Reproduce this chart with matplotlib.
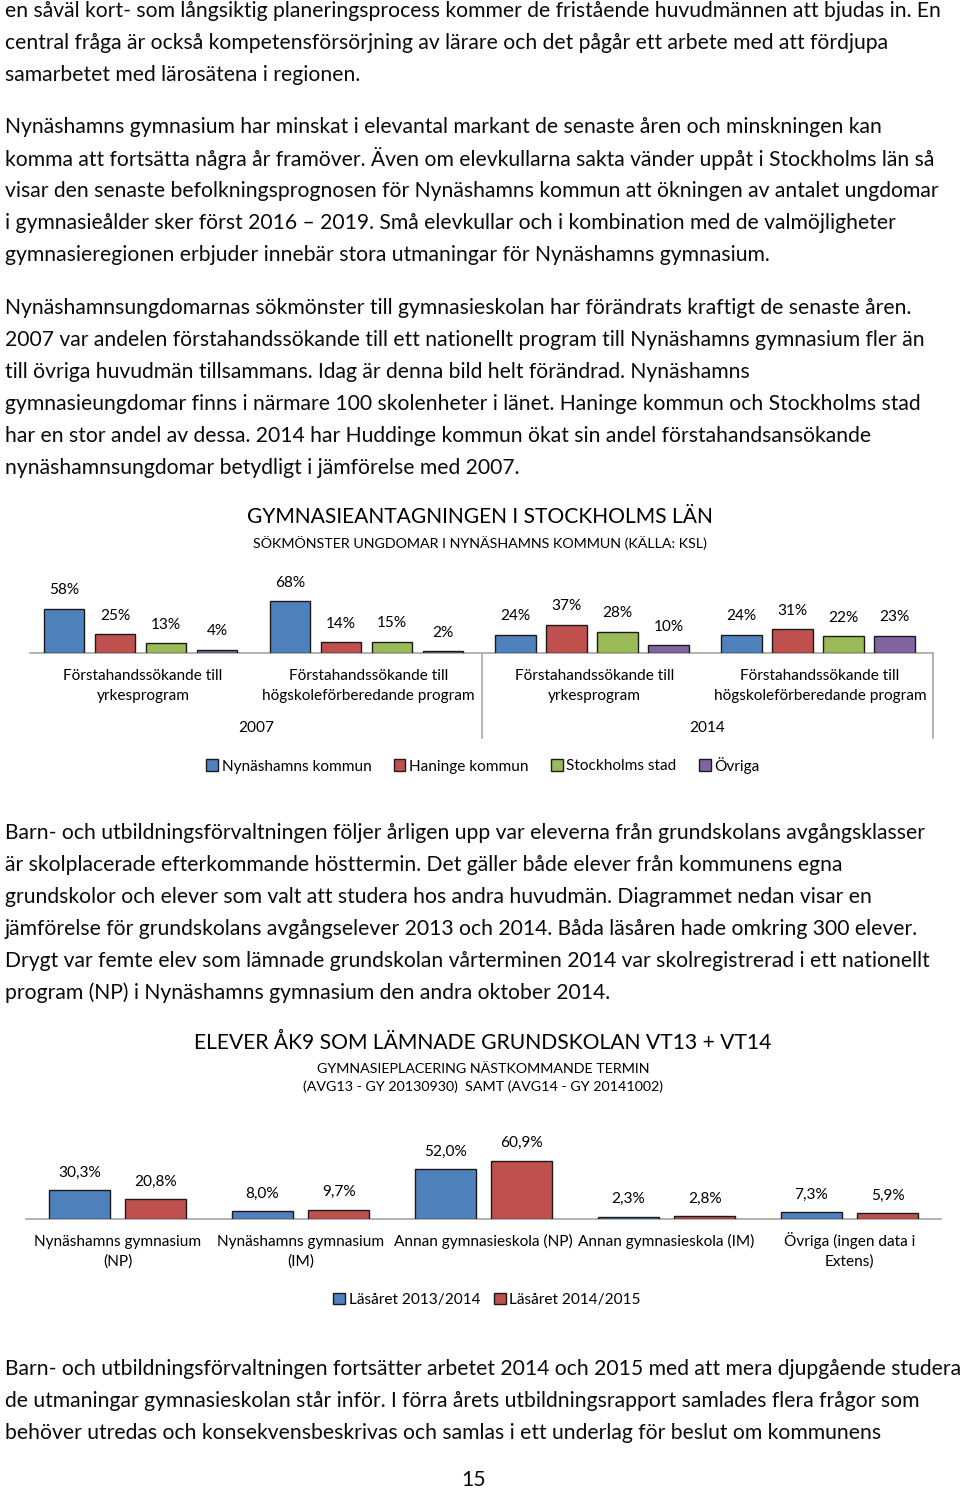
import matplotlib
matplotlib.use("Agg")
import matplotlib.pyplot as plt
import matplotlib.transforms as mtransforms

plt.rcParams['font.family'] = ['Lato', 'DejaVu Sans']

W, H = 960, 1490

# ---- text of the page ----
para_top = [
    "en såväl kort- som långsiktig planeringsprocess kommer de fristående huvudmännen att bjudas in. En",
    "central fråga är också kompetensförsörjning av lärare och det pågår ett arbete med att fördjupa",
    "samarbetet med lärosätena i regionen.",
]
para_2 = [
    "Nynäshamns gymnasium har minskat i elevantal markant de senaste åren och minskningen kan",
    "komma att fortsätta några år framöver. Även om elevkullarna sakta vänder uppåt i Stockholms län så",
    "visar den senaste befolkningsprognosen för Nynäshamns kommun att ökningen av antalet ungdomar",
    "i gymnasieålder sker först 2016 – 2019. Små elevkullar och i kombination med de valmöjligheter",
    "gymnasieregionen erbjuder innebär stora utmaningar för Nynäshamns gymnasium.",
]
para_3 = [
    "Nynäshamnsungdomarnas sökmönster till gymnasieskolan har förändrats kraftigt de senaste åren.",
    "2007 var andelen förstahandssökande till ett nationellt program till Nynäshamns gymnasium fler än",
    "till övriga huvudmän tillsammans. Idag är denna bild helt förändrad. Nynäshamns",
    "gymnasieungdomar finns i närmare 100 skolenheter i länet. Haninge kommun och Stockholms stad",
    "har en stor andel av dessa. 2014 har Huddinge kommun ökat sin andel förstahandsansökande",
    "nynäshamnsungdomar betydligt i jämförelse med 2007.",
]
para_4 = [
    "Barn- och utbildningsförvaltningen följer årligen upp var eleverna från grundskolans avgångsklasser",
    "är skolplacerade efterkommande hösttermin. Det gäller både elever från kommunens egna",
    "grundskolor och elever som valt att studera hos andra huvudmän. Diagrammet nedan visar en",
    "jämförelse för grundskolans avgångselever 2013 och 2014. Båda läsåren hade omkring 300 elever.",
    "Drygt var femte elev som lämnade grundskolan vårterminen 2014 var skolregistrerad i ett nationellt",
    "program (NP) i Nynäshamns gymnasium den andra oktober 2014.",
]
para_5 = [
    "Barn- och utbildningsförvaltningen fortsätter arbetet 2014 och 2015 med att mera djupgående studera",
    "de utmaningar gymnasieskolan står inför. I förra årets utbildningsrapport samlades flera frågor som",
    "behöver utredas och konsekvensbeskrivas och samlas i ett underlag för beslut om kommunens",
]
page_number = "15"

# ---- chart 1 data ----
c1_title = "GYMNASIEANTAGNINGEN I STOCKHOLMS LÄN"
c1_subtitle = "SÖKMÖNSTER UNGDOMAR I NYNÄSHAMNS KOMMUN (KÄLLA: KSL)"
c1_categories = ["Förstahandssökande till\nyrkesprogram",
                 "Förstahandssökande till\nhögskoleförberedande program",
                 "Förstahandssökande till\nyrkesprogram",
                 "Förstahandssökande till\nhögskoleförberedande program"]
c1_years = ["2007", "2014"]
c1_series = ["Nynäshamns kommun", "Haninge kommun", "Stockholms stad", "Övriga"]
c1_values = [
    [58, 68, 24, 24],   # Nynäshamns kommun
    [25, 14, 37, 31],   # Haninge kommun
    [13, 15, 28, 22],   # Stockholms stad
    [4, 2, 10, 23],     # Övriga
]
c1_colors = ["#4F81BD", "#C0504D", "#9BBB59", "#8064A2"]

# ---- chart 2 data ----
c2_title = "ELEVER ÅK9 SOM LÄMNADE GRUNDSKOLAN VT13 + VT14"
c2_subtitle = "GYMNASIEPLACERING NÄSTKOMMANDE TERMIN\n(AVG13 - GY 20130930)  SAMT (AVG14 - GY 20141002)"
c2_categories = ["Nynäshamns gymnasium\n(NP)", "Nynäshamns gymnasium\n(IM)",
                 "Annan gymnasieskola (NP)", "Annan gymnasieskola (IM)",
                 "Övriga (ingen data i\nExtens)"]
c2_series = ["Läsåret 2013/2014", "Läsåret 2014/2015"]
c2_values = [
    [30.3, 8.0, 52.0, 2.3, 7.3],
    [20.8, 9.7, 60.9, 2.8, 5.9],
]
c2_colors = ["#4F81BD", "#C0504D"]

BODY = 15.25
SMALL = 11.1

fig = plt.figure(figsize=(W / 100, H / 100), dpi=100)


def fy(y):
    return 1 - y / H


def body(lines, y0, step=32):
    for i, line in enumerate(lines):
        fig.text(5 / W, fy(y0 + i * step), line, fontsize=BODY, ha='left', va='center',
                 color='#0a0a0a')


def cat_labels(ax, trans, labels, h, first_base, step=20):
    # one text per line, placed on its baseline so accents do not shift it
    for c, lab in enumerate(labels):
        for k, part in enumerate(lab.split("\n")):
            ax.text(c, -(first_base + k * step) / h, part, transform=trans, ha='center',
                    va='baseline', fontsize=SMALL)


body(para_top, 11)
body(para_2, 127)
body(para_3, 308)
body(para_4, 833)
body(para_5, 1369)
fig.text(474 / W, fy(1480), page_number, fontsize=BODY, ha='center', va='center', color='#0a0a0a')

# ================= chart 1 =================
fig.text(480 / W, fy(517), c1_title, fontsize=15.1, ha='center', va='center')
fig.text(480 / W, fy(543), c1_subtitle, fontsize=10.3, ha='center', va='center')

base1, h1 = 653, 100
ax1 = fig.add_axes([30 / W, fy(base1), 903 / W, h1 / H])
ax1.set_xlim(-0.5, 3.5)
ax1.set_ylim(0, h1 / 0.76)
bw, step = 0.18, 0.226
for s, (name, vals, col) in enumerate(zip(c1_series, c1_values, c1_colors)):
    xs = [c + (s - 1.5) * step - 0.01 for c in range(len(c1_categories))]
    ax1.bar(xs, vals, width=bw, color=col, edgecolor='#1a1a1a', linewidth=1.0,
            label=name, zorder=3)
    for x, v in zip(xs, vals):
        ax1.annotate(f"{v}%", (x, v), xytext=(0, 18.5 * 0.72), textcoords='offset points',
                     ha='center', va='center', fontsize=SMALL)
for sp in ax1.spines.values():
    sp.set_visible(False)
ax1.set_xticks([])
ax1.set_yticks([])
trans1 = mtransforms.blended_transform_factory(ax1.transData, ax1.transAxes)
ax1.plot([-0.5, 3.5], [0, 0], transform=trans1, color='#a6a6a6', lw=1.2, clip_on=False)
for xd in [1.5, 3.5]:
    ax1.plot([xd, xd], [0, -85 / h1], transform=trans1, color='#a6a6a6', lw=1.2, clip_on=False)
cat_labels(ax1, trans1, c1_categories, h1, 27)
for g, yr in enumerate(c1_years):
    ax1.text(0.5 + 2 * g, -79 / h1, yr, transform=trans1, ha='center', va='baseline',
             fontsize=SMALL)
ax1.legend(loc='center', bbox_to_anchor=(483 / W, fy(765)), bbox_transform=fig.transFigure,
           ncol=4, frameon=False, fontsize=SMALL, handlelength=0.75, handleheight=0.75,
           handletextpad=0.25, columnspacing=1.45, borderpad=0)

# ================= chart 2 =================
fig.text(483 / W, fy(1043), c2_title, fontsize=15.2, ha='center', va='center')
fig.text(483 / W, fy(1078), c2_subtitle, fontsize=10.3, ha='center', va='center',
         linespacing=1.45)

base2, h2 = 1219, 100
ax2 = fig.add_axes([26 / W, fy(base2), 915 / W, h2 / H])
ax2.set_xlim(-0.5, 4.5)
ax2.set_ylim(0, h2 / 0.96)
bw2, off2 = 0.333, 0.208
for s, (name, vals, col) in enumerate(zip(c2_series, c2_values, c2_colors)):
    xs = [c + (s - 0.5) * 2 * off2 for c in range(len(c2_categories))]
    ax2.bar(xs, vals, width=bw2, color=col, edgecolor='#1a1a1a', linewidth=1.0,
            label=name, zorder=3)
    for x, v in zip(xs, vals):
        ax2.annotate(f"{v:.1f}%".replace('.', ','), (x, v), xytext=(0, 17.5 * 0.72),
                     textcoords='offset points', ha='center', va='center', fontsize=SMALL)
for sp in ax2.spines.values():
    sp.set_visible(False)
ax2.set_xticks([])
ax2.set_yticks([])
trans2 = mtransforms.blended_transform_factory(ax2.transData, ax2.transAxes)
ax2.plot([-0.5, 4.5], [0, 0], transform=trans2, color='#a6a6a6', lw=1.2, clip_on=False)
cat_labels(ax2, trans2, c2_categories, h2, 27)
ax2.legend(loc='center', bbox_to_anchor=(487 / W, fy(1300)), bbox_transform=fig.transFigure,
           ncol=2, frameon=False, fontsize=SMALL, handlelength=0.75, handleheight=0.75,
           handletextpad=0.25, columnspacing=0.9, borderpad=0)

fig.savefig("out.png", dpi=100)
